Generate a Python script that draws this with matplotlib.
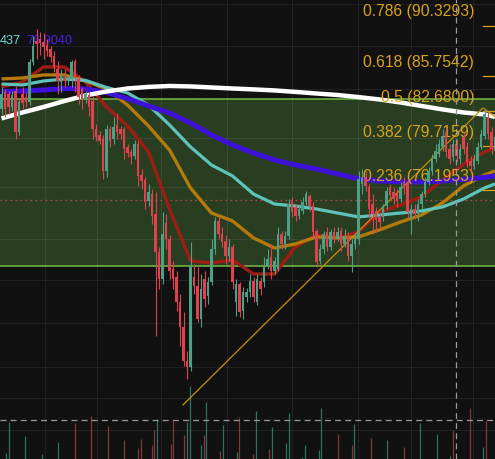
import matplotlib
matplotlib.use("Agg")
import matplotlib.pyplot as plt
import numpy as np
from matplotlib.transforms import blended_transform_factory

plt.rcParams['lines.scale_dashes'] = False
plt.rcParams['font.family'] = ['Liberation Sans', 'DejaVu Sans']

# ---------------- candle data (price) ----------------
opens = [82.88, 84.36, 84.18, 83.05, 84.44, 80.93, 84.18, 83.91, 83.48, 87.02,
         88.93, 89.12, 88.84, 88.56, 88.20, 87.56, 86.39, 85.23, 85.59, 85.32,
         85.50, 87.11, 85.50, 84.62, 83.74, 84.09, 83.57, 81.18, 80.68, 80.34,
         77.72, 81.18, 80.34, 81.52, 81.18, 81.18, 79.68, 79.26, 78.93, 79.92,
         77.40, 77.00, 75.33, 75.88, 74.33, 71.46, 69.49, 73.64, 72.43, 70.21,
         69.63, 67.85, 66.11, 63.82, 63.42, 69.63, 68.98, 66.66, 69.49, 68.27,
         69.27, 71.68, 73.79, 72.80, 72.28, 71.16, 71.83, 67.85, 69.13, 67.22,
         68.20, 68.55, 69.34, 67.85, 69.34, 69.27, 70.43, 71.09, 70.06, 70.21,
         72.80, 72.05, 72.65, 75.26, 74.87, 74.17, 74.56, 75.26, 75.72, 74.94,
         73.03, 70.79, 71.68, 72.95, 71.83, 72.95, 72.43, 73.03, 72.05, 72.65,
         71.16, 72.05, 72.43, 76.68, 77.24, 76.44, 75.10, 74.56, 74.10, 74.10,
         74.94, 76.44, 76.04, 75.88, 75.49, 76.84, 76.68, 73.94, 74.71, 74.33,
         75.10, 75.88, 76.84, 77.72, 78.69, 79.10, 79.68, 80.93, 79.51, 78.85,
         79.92, 78.69, 80.51, 79.68, 78.52, 78.12, 78.52, 79.68, 80.59, 82.20,
         80.93, 79.35]
closes = [84.18, 82.88, 83.05, 84.09, 80.93, 83.48, 83.40, 83.48, 87.02, 88.47,
          88.66, 88.75, 88.38, 88.02, 87.47, 86.57, 85.32, 85.77, 85.32, 85.50,
          87.02, 85.68, 83.91, 83.74, 84.18, 83.05, 81.18, 80.51, 80.17, 77.72,
          81.18, 80.17, 81.35, 80.93, 80.76, 79.51, 79.18, 78.85, 79.92, 77.32,
          76.92, 75.26, 76.04, 74.17, 71.46, 69.49, 72.80, 72.43, 70.06, 69.49,
          67.85, 66.11, 63.82, 63.42, 70.35, 68.98, 66.66, 68.77, 68.06, 69.27,
          71.68, 73.79, 72.80, 72.20, 71.16, 71.83, 69.27, 69.13, 67.15, 68.55,
          68.55, 69.34, 68.20, 69.49, 68.77, 70.43, 70.94, 70.06, 70.79, 72.80,
          72.05, 72.65, 75.10, 74.48, 74.17, 74.71, 75.26, 75.88, 74.94, 72.95,
          70.72, 71.68, 72.80, 71.83, 72.95, 72.43, 72.95, 72.05, 72.65, 71.16,
          72.05, 72.43, 77.08, 77.24, 76.52, 74.71, 74.33, 73.87, 73.71, 74.94,
          76.12, 75.80, 75.49, 75.33, 76.44, 76.44, 74.48, 74.71, 74.33, 75.10,
          75.88, 76.84, 77.72, 78.69, 79.35, 79.92, 80.59, 79.26, 78.69, 79.92,
          78.93, 79.51, 79.51, 78.44, 78.12, 78.69, 79.68, 80.76, 82.45, 80.76,
          79.51, 80.51]
highs = [84.80, 84.62, 84.44, 84.44, 84.88, 83.74, 84.80, 84.36, 87.29, 89.39,
         90.05, 89.77, 89.68, 89.12, 88.47, 88.02, 87.11, 86.39, 86.39, 85.86,
         87.20, 87.29, 85.86, 84.80, 84.44, 84.36, 84.00, 81.60, 81.01, 80.68,
         81.52, 81.43, 82.20, 82.54, 81.43, 81.35, 79.92, 79.51, 80.26, 80.17,
         77.88, 77.24, 76.68, 76.28, 76.04, 71.83, 74.48, 74.33, 72.73, 70.79,
         70.06, 68.41, 67.15, 64.48, 72.20, 70.57, 70.35, 69.84, 70.06, 69.63,
         72.43, 74.10, 74.10, 73.33, 72.73, 72.43, 72.05, 69.49, 69.27, 68.91,
         68.84, 69.84, 69.63, 69.84, 69.63, 71.09, 71.68, 72.05, 71.09, 73.33,
         73.03, 73.03, 75.49, 75.65, 75.10, 75.10, 75.65, 76.12, 75.88, 75.26,
         73.18, 72.05, 73.03, 73.33, 73.18, 73.33, 73.33, 73.33, 73.18, 72.95,
         72.43, 72.80, 77.72, 77.88, 77.72, 76.68, 75.88, 74.87, 74.40, 75.10,
         76.44, 76.68, 76.44, 76.28, 76.84, 77.24, 77.08, 75.10, 75.10, 75.49,
         76.12, 77.24, 78.04, 79.10, 79.92, 80.34, 81.18, 81.35, 79.92, 80.34,
         80.34, 79.92, 80.93, 80.09, 78.93, 79.10, 80.09, 81.18, 82.88, 82.62,
         81.35, 81.18]
lows = [82.45, 82.20, 82.45, 82.71, 80.34, 80.68, 82.88, 83.05, 83.22, 86.75,
        87.29, 87.65, 87.29, 87.56, 87.02, 86.12, 84.18, 84.36, 84.80, 84.97,
        84.80, 84.36, 83.31, 82.88, 83.40, 82.28, 80.34, 80.17, 79.92, 77.08,
        77.24, 79.68, 79.92, 80.34, 80.34, 78.69, 78.85, 78.28, 78.69, 76.52,
        76.28, 74.71, 74.94, 73.56, 65.49, 68.77, 69.13, 71.68, 69.49, 68.77,
        67.22, 64.82, 63.49, 62.64, 63.16, 68.41, 66.45, 66.11, 67.50, 67.71,
        69.06, 71.31, 72.43, 71.83, 70.57, 70.79, 68.77, 66.87, 66.80, 66.66,
        67.85, 68.20, 67.85, 67.64, 68.34, 68.91, 70.21, 69.49, 69.84, 70.06,
        71.68, 71.68, 72.43, 74.10, 73.79, 73.94, 74.33, 75.02, 74.56, 72.58,
        70.35, 70.57, 71.31, 71.53, 71.60, 72.13, 72.28, 71.53, 71.83, 70.79,
        70.00, 71.68, 72.05, 75.88, 76.12, 74.10, 72.80, 72.95, 73.18, 73.79,
        74.71, 75.49, 75.10, 74.87, 75.26, 75.88, 74.10, 72.80, 73.94, 73.79,
        74.71, 75.65, 76.60, 77.40, 78.44, 78.85, 79.35, 78.85, 78.28, 78.52,
        78.52, 78.28, 79.10, 78.04, 77.72, 77.88, 78.28, 79.51, 80.34, 80.34,
        79.10, 78.85]

# ---------------- moving averages (sampled every 6 bars) ----------------
ma_t = [0, 6, 12, 18, 24, 30, 36, 42, 48, 54, 60, 66, 72, 78, 84, 90, 96,
        102, 108, 114, 120, 126, 132, 138, 141]
ma_white = [82.07, 82.58, 83.05, 83.57, 84.05, 84.40, 84.66, 84.80, 84.88, 84.84,
            84.75, 84.66, 84.58, 84.49, 84.36, 84.22, 84.09, 83.91, 83.70, 83.44,
            83.14, 82.84, 82.58, 82.41, 82.20]
ma_purple = [84.40, 84.44, 84.53, 84.66, 84.62, 84.31, 83.78, 83.14, 82.54, 81.69,
             80.68, 79.84, 79.18, 78.61, 78.20, 77.88, 77.48, 77.08, 76.92, 76.84,
             76.84, 76.92, 77.04, 77.20, 77.32]
ma_cyan = [85.06, 84.97, 85.32, 85.50, 85.37, 84.75, 84.27, 83.22, 81.52, 79.68,
           78.20, 77.32, 75.88, 75.10, 74.94, 74.71, 74.40, 74.10, 74.25, 74.40,
           74.56, 74.87, 75.49, 76.36, 76.68]
ma_orange = [85.50, 85.59, 85.86, 85.86, 85.32, 84.62, 83.22, 81.43, 79.43, 76.36,
             74.40, 73.79, 72.50, 71.75, 72.05, 72.58, 72.50, 72.58, 73.11, 73.71,
             74.25, 75.18, 76.52, 77.40, 77.72]
ma_red = [84.80, 85.23, 86.57, 86.57, 85.23, 83.05, 81.43, 79.26, 74.71, 70.79,
          70.65, 70.86, 69.84, 69.84, 71.83, 72.73, 72.50, 72.95, 74.48, 75.02,
          75.65, 77.00, 78.28, 79.26, 79.59]

# ---------------- volume (sparse) ----------------
vol_t = [1.3, 2.1, 6.7, 11.6, 16.1, 21.0, 25.6, 30.4, 35.0, 39.0, 39.9, 43.0, 43.6,
         44.4, 48.4, 49.0, 52.1, 53.0, 53.9, 57.0, 57.9, 58.4, 62.4, 63.3, 67.3,
         67.9, 71.9, 72.7, 76.4, 77.3, 81.3, 82.1, 85.9, 86.7, 90.7, 91.3, 96.1,
         100.1, 100.7, 105.6, 110.1, 115.0, 119.6, 124.4, 128.1, 129.0, 133.9,
         137.6, 138.4]
vol_val = [60, 370, 230, 50, 170, 360, 430, 330, 190, 110, 200, 140, 290,
           400, 150, 380, 240, 370, 730, 140, 240, 570, 80, 340, 70,
           420, 50, 480, 100, 320, 160, 460, 20, 140, 90, 510, 250,
           140, 350, 210, 190, 120, 360, 250, 30, 290, 510,
           120, 380]
vol_up = [1, 1, 1, 1, 1, 0, 0, 0, 0, 0, 0, 0, 0,
          1, 0, 0, 0, 1, 1, 1, 0, 1, 0, 1, 1,
          0, 0, 1, 0, 1, 1, 1, 1, 1, 1, 1, 0,
          0, 1, 0, 1, 0, 1, 1, 1, 0, 0,
          1, 0]
vol_scale_max = 4600

# ---------------- drawings ----------------
fib_levels = ['0.786', '0.618', '0.5', '0.382', '0.236']
fib_prices = [90.3293, 85.7542, 82.6800, 79.7159, 76.1953]
fib_start_t = 137.6
trend_t = [51.86, 137.57, 141.6]
trend_p = [60.97, 82.97, 82.10]
box_top, box_bottom, box_mid = 83.74, 70.42, 75.41
cross_t, cross_p = 129.9, 60.02
grid_prices = [92.4, 88.5, 84.6, 80.4, 76.4, 72.4, 69.4, 66.4, 63.4, 61.4, 59.4]
grid_t = [12.4, 27.3, 45.6, 64.4, 83.0, 101.9, 117.0, 134.7]
legend_vals = ['437', '76.9040']

# ---------------- plot ----------------
BG = '#111111'
UP, DN = '#4ea084', '#e0414f'
fig = plt.figure(figsize=(4.95, 4.60), dpi=100, facecolor=BG)
ax = fig.add_axes([0, 0, 1, 1])
ax.set_facecolor(BG)
ax.set_yscale('log')
ax.set_xlim(-0.43, 141.0)
ax.set_ylim(57.644, 92.895)
ax.axis('off')

# green range box
ax.axhspan(box_bottom, box_top, color='#293d21', zorder=0.5, lw=0)
for yv in (box_top, box_bottom):
    ax.axhline(yv, color='#74bd45', lw=1.1, zorder=2)
ax.axhline(box_mid, color='#b54848', lw=1.0, dashes=(1.2, 2.4), zorder=2)

# grid
for g in grid_prices:
    ax.axhline(g, color='#ffffff', alpha=0.07, lw=0.8, zorder=1)
for g in grid_t:
    ax.axvline(g, color='#ffffff', alpha=0.07, lw=0.8, zorder=1)

# volume
o = np.array(opens); c = np.array(closes); h = np.array(highs); l = np.array(lows)
btr = blended_transform_factory(ax.transData, ax.transAxes)
vcols = ['#2f7262' if u else '#843838' for u in vol_up]
ax.vlines(vol_t, 0, np.array(vol_val) / vol_scale_max, colors=vcols,
          lw=0.9, transform=btr, zorder=1.5)

# legend text (top-left)
ax.text(0.0, 1 - 40.5 / 460, legend_vals[0], transform=ax.transAxes, color='#6fd3d0',
        fontsize=9.2, va='center', ha='left', zorder=3)
ax.text(26 / 495, 1 - 40.5 / 460, legend_vals[1], transform=ax.transAxes, color='#4a1fe6',
        fontsize=9.2, va='center', ha='left', zorder=3)

# moving averages
ax.plot(ma_t, ma_red, color='#9e1d13', lw=2.4, zorder=3, solid_capstyle='butt')
ax.plot(ma_t, ma_orange, color='#b47a0c', lw=2.4, zorder=3, solid_capstyle='butt')
ax.plot(ma_t, ma_cyan, color='#5ec3bb', lw=2.3, zorder=3, solid_capstyle='butt')
ax.plot(ma_t, ma_purple, color='#3d12d6', lw=3.6, zorder=3, solid_capstyle='butt')
ax.plot(ma_t, ma_white, color='#ffffff', lw=3.2, zorder=3, solid_capstyle='butt')

# fib labels and lines
FIB = '#d9a21a'
for lv, pr in zip(fib_levels, fib_prices):
    ax.plot([fib_start_t, 145], [pr, pr], color=FIB, lw=0.9, zorder=3.4)
    ax.annotate(f"{lv} ({pr:.4f})", xy=(fib_start_t, pr), xytext=(-9, 15),
                textcoords='offset pixels', ha='right', va='center',
                color=FIB, fontsize=11.3, zorder=3.5)

# trend line
ax.plot(trend_t, trend_p, color='#c8900c', lw=0.9, zorder=3.4)

# candles
x = np.arange(len(o))
cols = np.where(c >= o, UP, DN)
ax.vlines(x, l, h, colors=cols, lw=0.8, zorder=5)
body_lo = np.minimum(o, c)
body_h = np.maximum(np.abs(c - o), 0.06)
ax.bar(x, body_h, bottom=body_lo, width=0.72, color=cols, lw=0, zorder=6)

# crosshair
ax.axvline(cross_t, color='#9a9a9a', lw=0.9, dashes=(4.3, 3.0), zorder=7)
ax.axhline(cross_p, color='#9a9a9a', lw=0.9, dashes=(4.3, 3.0), zorder=7)

fig.savefig('out.png', dpi=100, facecolor=BG)
